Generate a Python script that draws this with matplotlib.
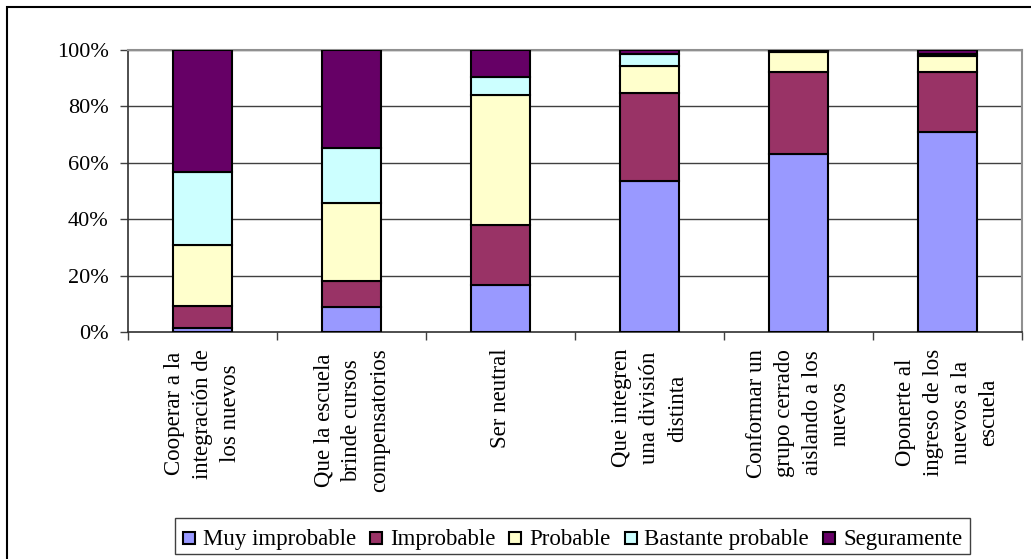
import matplotlib
matplotlib.use("Agg")
import matplotlib.pyplot as plt
from matplotlib.patches import Rectangle
from matplotlib.transforms import IdentityTransform
from matplotlib.ticker import FixedLocator, PercentFormatter

plt.rcParams['font.family'] = ['Liberation Serif', 'DejaVu Serif']

categories = [
    "Cooperar a la\nintegración de\nlos nuevos",
    "Que la escuela\nbrinde cursos\ncompensatorios",
    "Ser neutral",
    "Que integren\nuna división\ndistinta",
    "Conformar un\ngrupo cerrado\naislando a los\nnuevos",
    "Oponerte al\ningreso de los\nnuevos a la\nescuela",
]

series_names = ["Muy improbable", "Improbable", "Probable",
                "Bastante probable", "Seguramente"]

muy_improbable = [1.5, 8.9, 16.6, 53.5, 63.1, 70.8]
improbable = [7.7, 9.2, 21.3, 31.1, 29.2, 21.5]
probable = [21.6, 27.7, 46.1, 9.7, 6.9, 5.7]
bastante_probable = [26.0, 19.3, 6.5, 4.2, 0.3, 0.6]
seguramente = [43.2, 34.9, 9.5, 1.5, 0.5, 1.4]

colors = ["#9999FF", "#993366", "#FFFFCC", "#CCFFFF", "#660066"]
y_ticks = [0, 20, 40, 60, 80, 100]

W, H = 1031, 559
fig = plt.figure(figsize=(W / 100, H / 100), dpi=100)
ax = fig.add_axes([128 / W, 1 - 332 / H, 894 / W, 282 / H])

# Stacked bars, each column normalised to 100 %
all_series = [muy_improbable, improbable, probable, bastante_probable, seguramente]
positions = list(range(len(categories)))
bottoms = [0.0] * len(categories)
for name, vals, col in zip(series_names, all_series, colors):
    ax.bar(positions, vals, width=0.4, bottom=bottoms, color=col,
           edgecolor="black", linewidth=1.5, zorder=3)
    bottoms = [b + v for b, v in zip(bottoms, vals)]

ax.set_xlim(-0.5, len(categories) - 0.5)
ax.set_ylim(0, 100)

# Horizontal gridlines
for t in y_ticks[1:]:
    ax.axhline(t, color="#404040", linewidth=1.0, zorder=1)

# Y axis
ax.yaxis.set_major_locator(FixedLocator(y_ticks))
ax.yaxis.set_major_formatter(PercentFormatter(decimals=0))
ax.tick_params(axis="y", direction="out", length=6, width=1.0,
               pad=8, labelsize=16, color="#404040")

# X axis: ticks at category boundaries, labels at centres
ax.xaxis.set_major_locator(FixedLocator([i + 0.5 for i in range(-1, len(categories))]))
ax.xaxis.set_minor_locator(FixedLocator(positions))
ax.tick_params(axis="x", which="major", direction="out", length=6,
               width=1.0, labelbottom=False, color="#404040")
ax.tick_params(axis="x", which="minor", length=0, pad=12, labelsize=16.5)
ax.set_xticks(positions, minor=True)
ax.set_xticklabels(categories, minor=True, rotation=90,
                   ha="center", va="top", multialignment="center",
                   linespacing=1.42)

for side in ["left", "bottom"]:
    ax.spines[side].set_color("#303030")
    ax.spines[side].set_linewidth(1.2)
for side in ["top", "right"]:
    ax.spines[side].set_color("#909090")
    ax.spines[side].set_linewidth(1.5)

# Legend row below the plot, laid out in pixels on one shared baseline
px = IdentityTransform()
renderer = fig.canvas.get_renderer()
legend_fs = 16.5
swatch = 12
swatch_gap = 8
entry_gap = 14
frame_pad = 8
legend_cx = 572.5
frame_top, frame_bottom = H - 518, H - 554
baseline = H - 545

labels = [fig.text(0, baseline, n, fontsize=legend_fs, transform=px,
                   ha="left", va="baseline") for n in series_names]
widths = [t.get_window_extent(renderer).width for t in labels]
total = (sum(widths) + len(labels) * (swatch + swatch_gap)
         + (len(labels) - 1) * entry_gap + 2 * frame_pad)
x = legend_cx - total / 2
fig.add_artist(Rectangle((x, frame_bottom), total, frame_top - frame_bottom,
                         transform=px, facecolor="white", edgecolor="#404040",
                         linewidth=1.0, zorder=1))
x += frame_pad
for t, w, c in zip(labels, widths, colors):
    fig.add_artist(Rectangle((x, baseline + 1), swatch, swatch, transform=px,
                             facecolor=c, edgecolor="black", linewidth=1.5,
                             zorder=2))
    x += swatch + swatch_gap
    t.set_x(x)
    t.set_zorder(3)
    x += w + entry_gap

# Chart area border
fig.patches.append(Rectangle((7 / W, -0.1), 1.2, 1.1 - 7 / H,
                             transform=fig.transFigure, fill=False,
                             edgecolor="black", linewidth=1.5))

fig.savefig("out.png", dpi=100)
